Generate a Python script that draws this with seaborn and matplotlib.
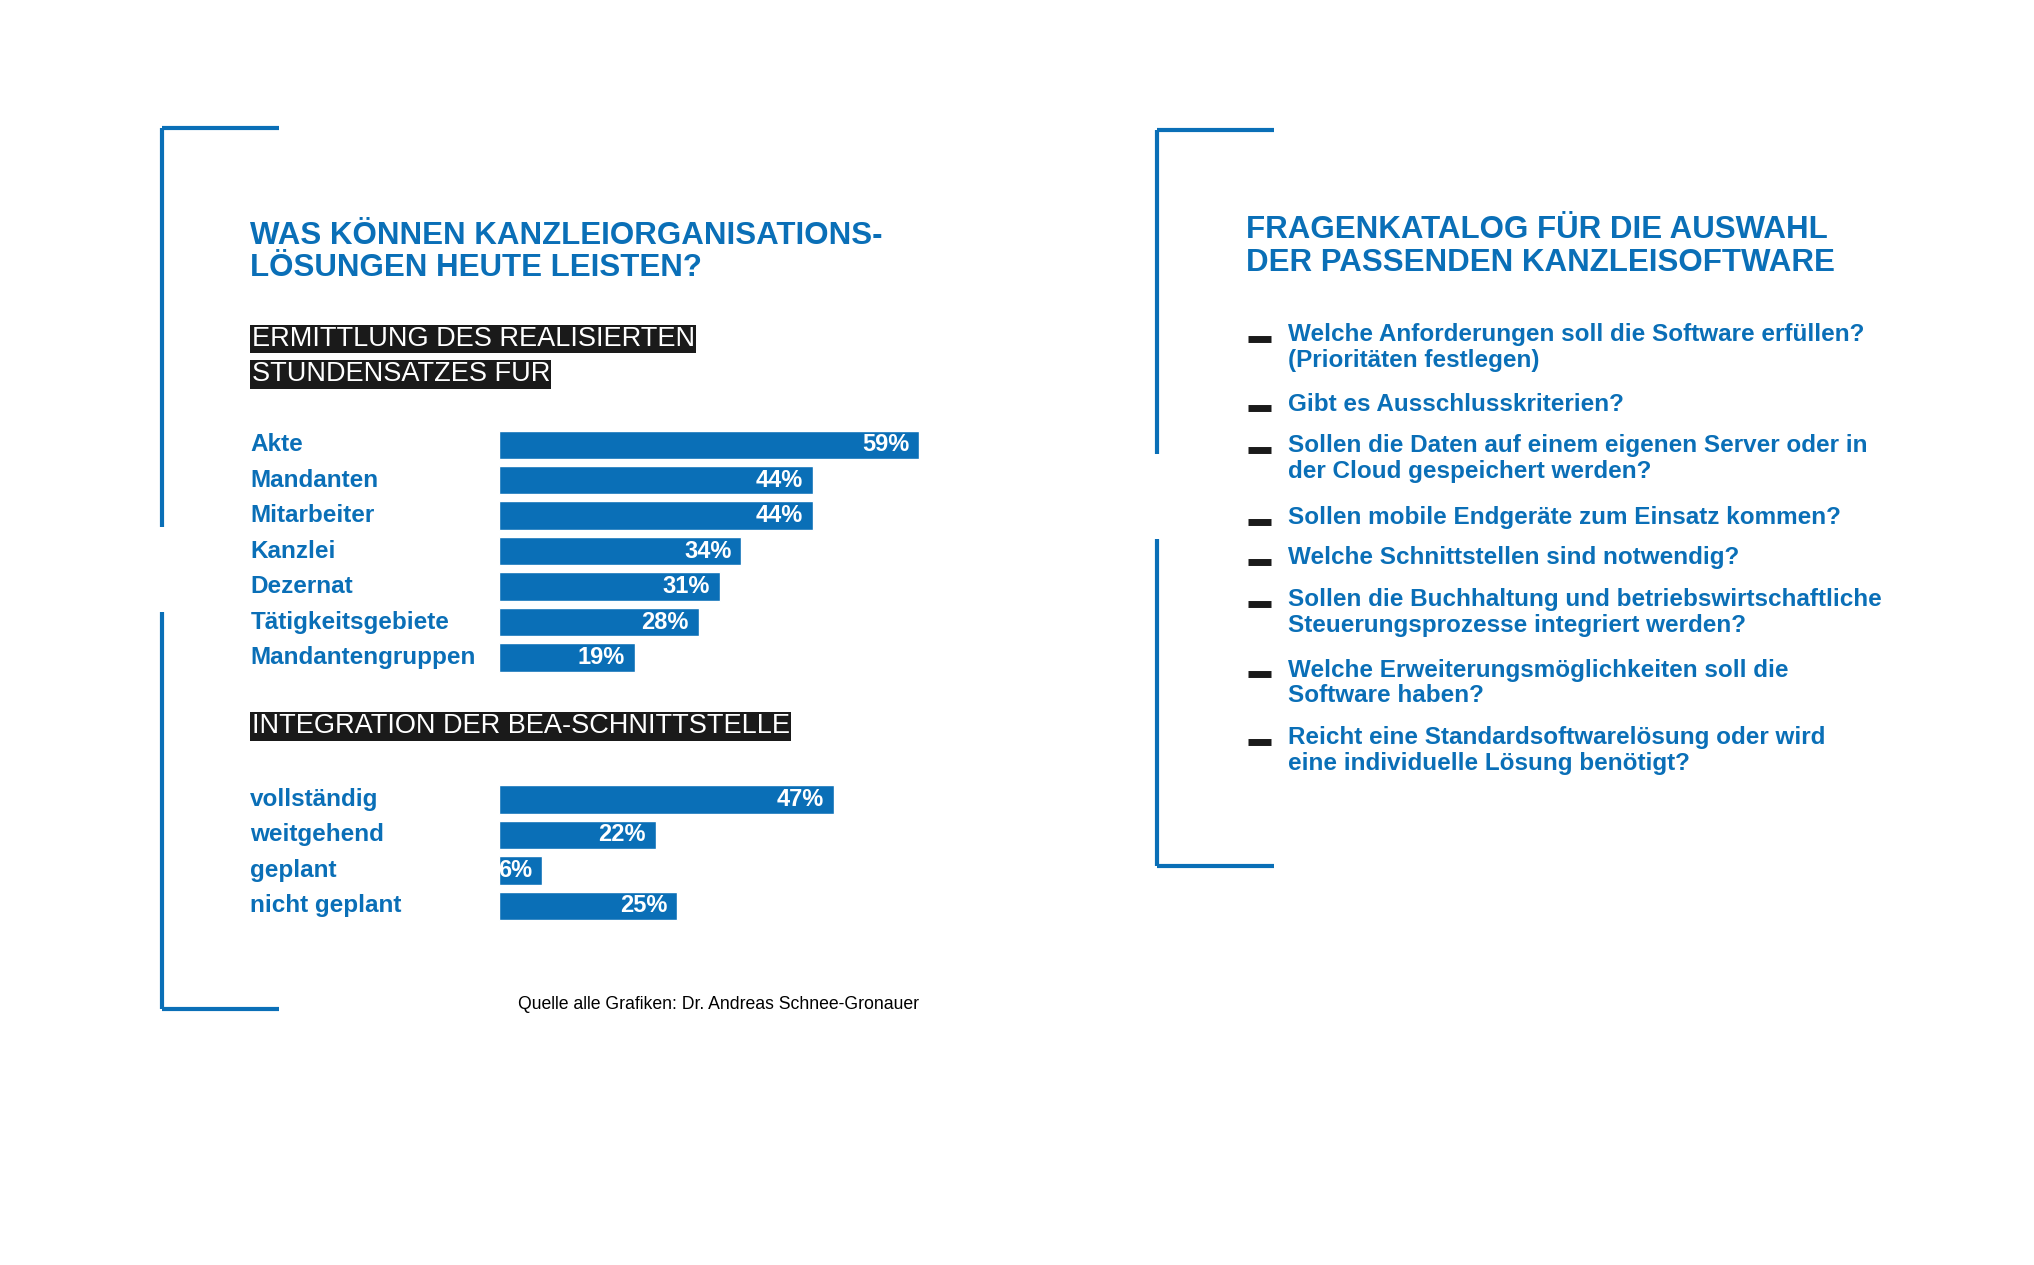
import matplotlib
matplotlib.use("Agg")
import matplotlib.pyplot as plt
import matplotlib.transforms as mtransforms
import seaborn as sns
import pandas as pd

sns.set_style("white")
plt.rcParams['font.family'] = ['Liberation Sans', 'DejaVu Sans']

BLUE = '#0a6fb7'

# Daten
kategorien_stunden = ['Akte', 'Mandanten', 'Mitarbeiter', 'Kanzlei', 'Dezernat',
                      'Tätigkeitsgebiete', 'Mandantengruppen']
werte_stunden = [59, 44, 44, 34, 31, 28, 19]

kategorien_bea = ['vollständig', 'weitgehend', 'geplant', 'nicht geplant']
werte_bea = [47, 22, 6, 25]

fragen = [
    'Welche Anforderungen soll die Software erfüllen?\n(Prioritäten festlegen)',
    'Gibt es Ausschlusskriterien?',
    'Sollen die Daten auf einem eigenen Server oder in\nder Cloud gespeichert werden?',
    'Sollen mobile Endgeräte zum Einsatz kommen?',
    'Welche Schnittstellen sind notwendig?',
    'Sollen die Buchhaltung und betriebswirtschaftliche\nSteuerungsprozesse integriert werden?',
    'Welche Erweiterungsmöglichkeiten soll die\nSoftware haben?',
    'Reicht eine Standardsoftwarelösung oder wird\neine individuelle Lösung benötigt?',
]
fragen_y = [260, 313, 345, 400, 431, 463, 517, 569]

W, H = 1560.0, 970.0  # Referenz-Koordinaten (skaliert)
fx = lambda x: x / W
fy = lambda y: 1 - y / H

fig = plt.figure(figsize=(20.34, 12.65), dpi=100)
fig.patch.set_facecolor('white')


def linie(x0, y0, x1, y1):
    fig.add_artist(plt.Line2D([fx(x0), fx(x1)], [fy(y0), fy(y1)], color=BLUE, lw=3,
                              transform=fig.transFigure, solid_capstyle='butt'))


# Klammern links
linie(124, 98, 214, 98)
linie(124, 98, 124, 404)
linie(124, 469, 124, 774)
linie(124, 774, 214, 774)
# Klammern rechts
linie(887, 100, 977, 100)
linie(887, 100, 887, 348)
linie(887, 413, 887, 664)
linie(887, 664, 977, 664)

# Titel
fig.text(fx(192), fy(193), 'WAS KÖNNEN KANZLEIORGANISATIONS-\nLÖSUNGEN HEUTE LEISTEN?',
         color=BLUE, fontsize=22.5, fontweight='bold', va='center', linespacing=1.1)
fig.text(fx(956), fy(189), 'FRAGENKATALOG FÜR DIE AUSWAHL\nDER PASSENDEN KANZLEISOFTWARE',
         color=BLUE, fontsize=22.5, fontweight='bold', va='center', linespacing=1.1)


def kopf(text, y):
    fig.text(fx(193), fy(y), text, color='white', fontsize=19.5, va='center',
             bbox=dict(facecolor='#1a1a1a', edgecolor='none', pad=1.0))


kopf('ERMITTLUNG DES REALISIERTEN', 260)
kopf('STUNDENSATZES FÜR', 287)
kopf('INTEGRATION DER BEA-SCHNITTSTELLE', 557)


def balken(kategorien, werte, y_erst):
    n = len(kategorien)
    step = 27.2
    top = y_erst - step / 2
    bottom = top + n * step
    ax = fig.add_axes([fx(383), fy(bottom), 546 / W, (bottom - top) / H])
    df = pd.DataFrame({'kat': kategorien, 'wert': werte})
    sns.barplot(data=df, y='kat', x='wert', orient='h', color=BLUE, width=0.8,
                saturation=1, ax=ax)
    ax.set_xlim(0, 100)
    ax.set_ylim(n - 0.5, -0.5)
    ax.axis('off')
    trans = mtransforms.blended_transform_factory(fig.transFigure, ax.transData)
    for i, (k, v) in enumerate(zip(kategorien, werte)):
        ax.text(fx(192), i, k, transform=trans, color=BLUE, fontsize=17.5,
                fontweight='bold', va='center', ha='left')
        ax.text(v - 1.4, i, f'{v}%', color='white', fontsize=17, fontweight='bold',
                va='center', ha='right')
    return ax


balken(kategorien_stunden, werte_stunden, 341)
balken(kategorien_bea, werte_bea, 613)

fig.text(fx(705), fy(770), 'Quelle alle Grafiken: Dr. Andreas Schnee-Gronauer',
         color='black', fontsize=12.7, ha='right', va='center')

# Fragenkatalog
for f, y in zip(fragen, fragen_y):
    fig.add_artist(plt.Line2D([fx(957), fx(975)], [fy(y), fy(y)], color='#1a1a1a', lw=5,
                              transform=fig.transFigure, solid_capstyle='butt'))
    fig.text(fx(988), fy(y - 12), f, color=BLUE, fontsize=17.5, fontweight='bold',
             va='top', ha='left', linespacing=1.15)

plt.savefig('out.png', dpi=100, facecolor='white')
plt.close()
